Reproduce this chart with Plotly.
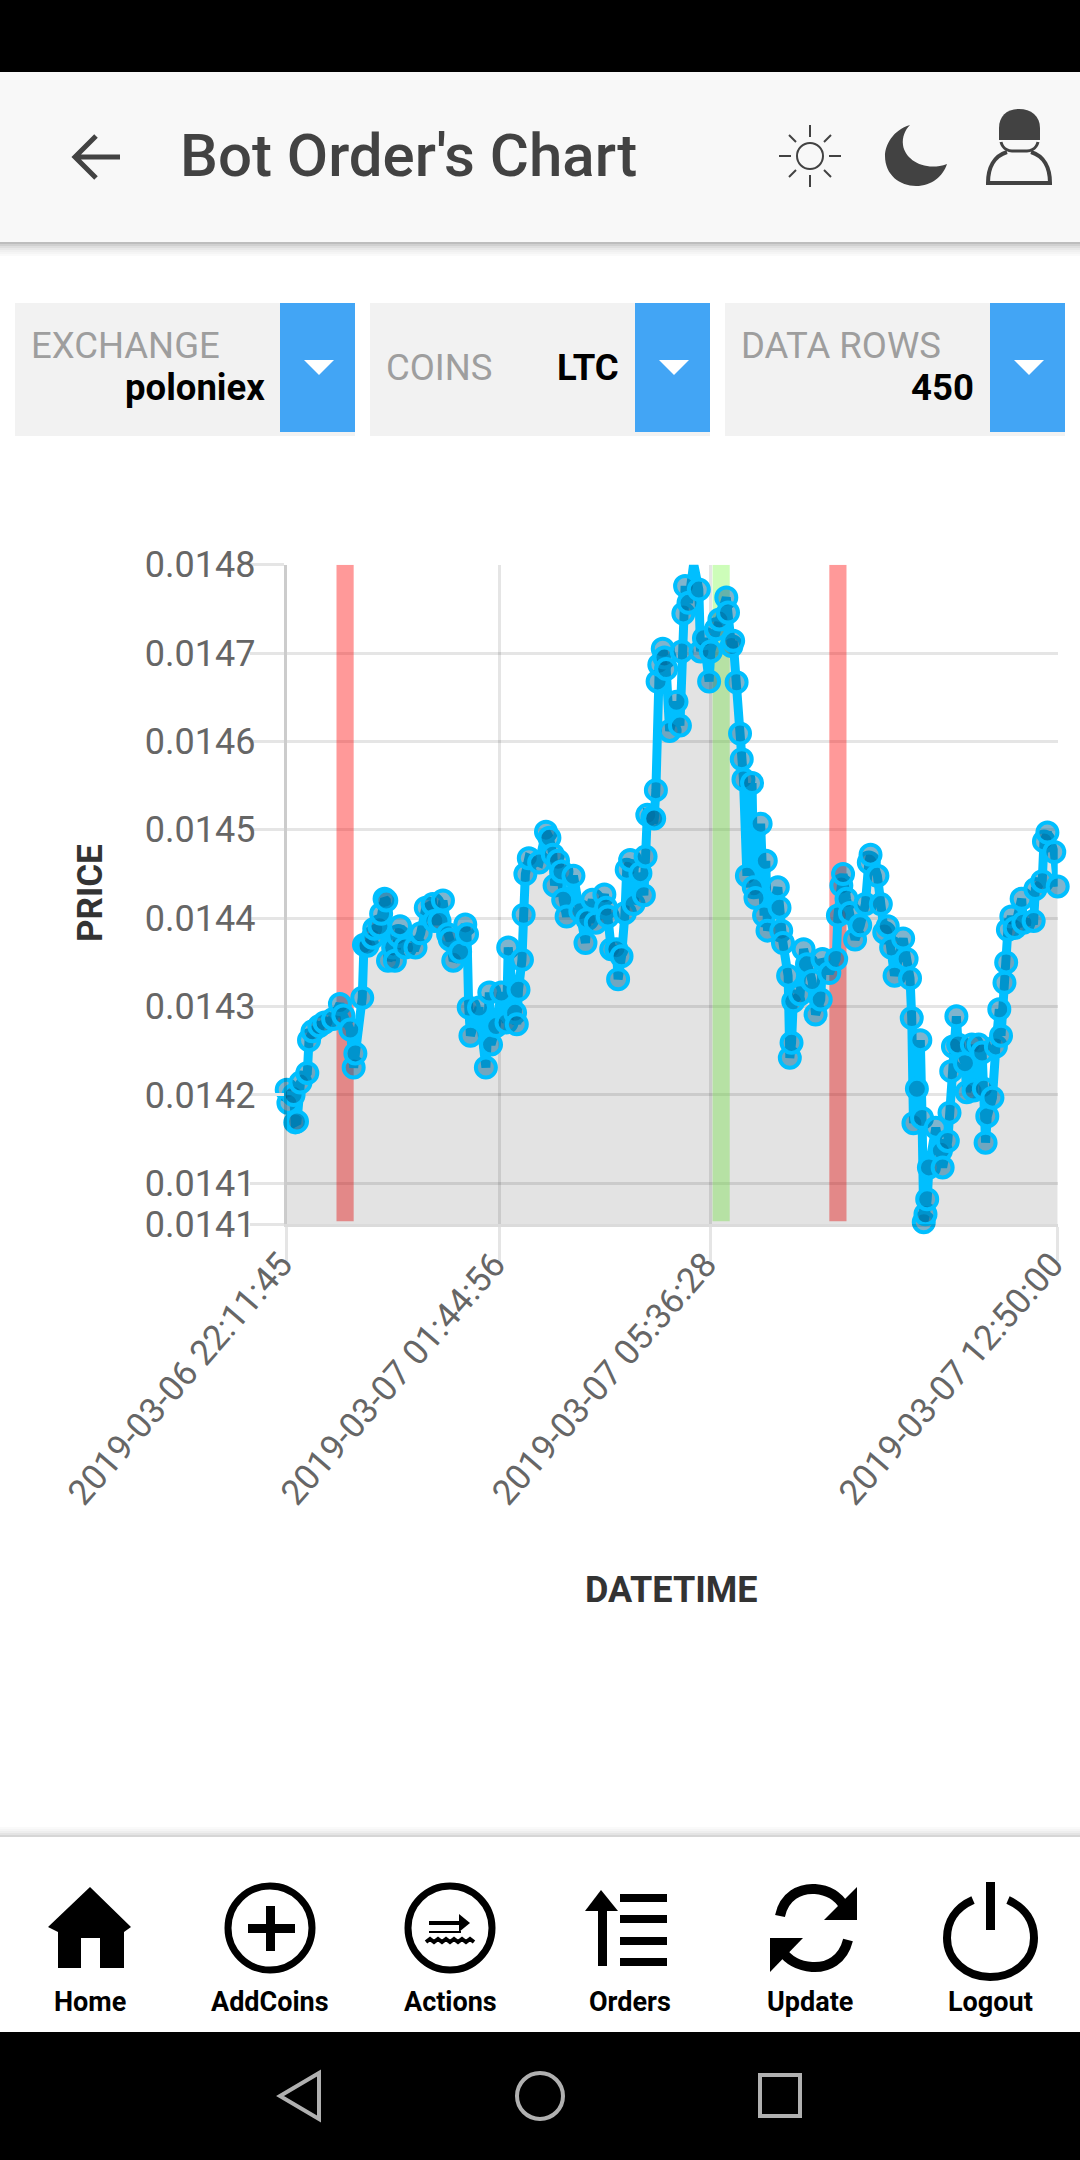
import re
import plotly.graph_objects as go

# values
row = [0, 1, 4, 5, 6, 8, 12, 13, 15, 19,
       22, 27, 31, 33, 37, 39, 40, 44, 45, 47,
       50, 51, 54, 55, 57, 58, 59, 62, 63, 65,
       66, 69, 75, 78, 81, 85, 86, 89, 91, 94,
       95, 97, 101, 104, 105, 106, 107, 112, 116, 118,
       119, 122, 125, 128, 129, 133, 134, 135, 137, 138,
       139, 141, 147, 151, 153, 155, 156, 158, 160, 161,
       163, 167, 171, 174, 175, 178, 180, 185, 186, 187,
       189, 192, 193, 195, 197, 198, 200, 202, 206, 208,
       209, 210, 213, 214, 215, 216, 217, 219, 220, 221,
       223, 227, 229, 230, 231, 232, 234, 237, 240, 241,
       243, 246, 247, 250, 252, 256, 257, 259, 260, 262,
       264, 265, 266, 268, 271, 272, 273, 276, 278, 279,
       280, 286, 287, 288, 289, 292, 293, 294, 295, 299,
       301, 303, 306, 308, 311, 312, 316, 320, 321, 323,
       324, 326, 328, 331, 334, 337, 339, 340, 344, 346,
       348, 350, 352, 354, 359, 361, 363, 364, 365, 367,
       369, 370, 371, 372, 373, 374, 378, 381, 382, 385,
       386, 387, 388, 390, 391, 395, 396, 399, 400, 403,
       405, 406, 407, 408, 411, 413, 415, 416, 418, 419,
       420, 422, 424, 428, 429, 435, 436, 440, 441, 443,
       447, 449]
price = [0.014206, 0.014191, 0.014200, 0.014169, 0.014170, 0.014214, 0.014225, 0.014262, 0.014272, 0.014278,
         0.014282, 0.014286, 0.014303, 0.014290, 0.014274, 0.014231, 0.014247, 0.014310, 0.014370, 0.014369,
         0.014378, 0.014388, 0.014391, 0.014405, 0.014422, 0.014420, 0.014352, 0.014367, 0.014352, 0.014380,
         0.014391, 0.014367, 0.014367, 0.014383, 0.014412, 0.014416, 0.014397, 0.014397, 0.014420, 0.014382,
         0.014376, 0.014352, 0.014362, 0.014393, 0.014382, 0.014299, 0.014267, 0.014299, 0.014231, 0.014316,
         0.014257, 0.014278, 0.014316, 0.014282, 0.014367, 0.014293, 0.014280, 0.014319, 0.014353, 0.014404,
         0.014450, 0.014468, 0.014463, 0.014498, 0.014491, 0.014472, 0.014437, 0.014465, 0.014453, 0.014421,
         0.014402, 0.014448, 0.014408, 0.014372, 0.014399, 0.014421, 0.014395, 0.014427, 0.014412, 0.014402,
         0.014365, 0.014365, 0.014331, 0.014357, 0.014406, 0.014455, 0.014466, 0.014416, 0.014451, 0.014426,
         0.014470, 0.014517, 0.014514, 0.014513, 0.014545, 0.014668, 0.014687, 0.014705, 0.014695, 0.014682,
         0.014612, 0.014645, 0.014618, 0.014702, 0.014745, 0.014776, 0.014757, 0.014801, 0.014772, 0.014702,
         0.014717, 0.014668, 0.014702, 0.014727, 0.014738, 0.014763, 0.014746, 0.014708, 0.014714, 0.014667,
         0.014609, 0.014580, 0.014557, 0.014448, 0.014553, 0.014435, 0.014423, 0.014507, 0.014403, 0.014465,
         0.014386, 0.014435, 0.014412, 0.014386, 0.014372, 0.014335, 0.014242, 0.014259, 0.014306, 0.014314,
         0.014365, 0.014348, 0.014329, 0.014291, 0.014308, 0.014354, 0.014338, 0.014354, 0.014403, 0.014437,
         0.014450, 0.014422, 0.014406, 0.014376, 0.014392, 0.014416, 0.014463, 0.014472, 0.014448, 0.014416,
         0.014384, 0.014391, 0.014367, 0.014335, 0.014377, 0.014354, 0.014332, 0.014287, 0.014168, 0.014207,
         0.014262, 0.014174, 0.014056, 0.014065, 0.014082, 0.014118, 0.014163, 0.014137, 0.014118, 0.014148,
         0.014180, 0.014227, 0.014255, 0.014289, 0.014257, 0.014236, 0.014203, 0.014257, 0.014205, 0.014257,
         0.014248, 0.014207, 0.014146, 0.014176, 0.014197, 0.014255, 0.014297, 0.014267, 0.014327, 0.014350,
         0.014387, 0.014402, 0.014389, 0.014422, 0.014395, 0.014397, 0.014433, 0.014442, 0.014487, 0.014497,
         0.014475, 0.014436]

x_ticks = [0, 124, 247, 449]
x_labels = ["2019-03-06 22:11:45", "2019-03-07 01:44:56", "2019-03-07 05:36:28", "2019-03-07 12:50:00"]
y_ticks = [0.0148, 0.0147, 0.0146, 0.0145, 0.0144, 0.0143, 0.0142, 0.0141, 0.014054]
y_labels = ["0.0148", "0.0147", "0.0146", "0.0145", "0.0144", "0.0143", "0.0142", "0.0141", "0.0141"]

# order bands: start row, end row, colour
band_start = [29, 248, 316]
band_end = [39, 258, 326]
band_colors = ["rgba(255,0,0,0.4)", "rgba(130,250,80,0.4)", "rgba(255,0,0,0.4)"]
band_bottom = 0.014057
band_top = 0.0148

W, H = 1080, 2160


def px(x):
    return x / W


def py(y):
    return 1 - y / H


def to_paper(d):
    # screen pixels -> paper coords for a path string
    out = []
    is_x = True
    for tok in re.findall(r"[MLCQZ]|-?[\d.]+", d):
        if tok in "MLCQZ":
            out.append(tok)
        else:
            out.append(str(px(float(tok))) if is_x else str(py(float(tok))))
            is_x = not is_x
    return " ".join(out)


shapes = []
annotations = []


def rect(x0, y0, x1, y1, color):
    shapes.append(dict(type="rect", xref="paper", yref="paper", x0=px(x0), x1=px(x1), y0=py(y0), y1=py(y1),
                       fillcolor=color, line=dict(width=0), layer="above"))


def circle(cx, cy, rx, ry, color, width, fill="rgba(0,0,0,0)"):
    shapes.append(dict(type="circle", xref="paper", yref="paper", x0=px(cx - rx), x1=px(cx + rx),
                       y0=py(cy - ry), y1=py(cy + ry), fillcolor=fill,
                       line=dict(color=color, width=width), layer="above"))


def path(d, fill=None, color=None, width=0):
    shapes.append(dict(type="path", xref="paper", yref="paper", path=to_paper(d),
                       fillcolor=fill if fill else "rgba(0,0,0,0)",
                       line=dict(color=color if color else "rgba(0,0,0,0)", width=width), layer="above"))


def text(s, x, y, size, color, anchor="left", weight=400, angle=0):
    annotations.append(dict(text=s, xref="paper", yref="paper", x=px(x), y=py(y), showarrow=False,
                            xanchor=anchor, yanchor="middle", textangle=angle,
                            font=dict(family="Roboto", size=size, color=color, weight=weight)))


# status bar, header
rect(0, 0, W, 72, "#000000")
rect(0, 72, W, 242, "#F8F8F8")
for i, c in enumerate(["#BDBDBD", "#D0D0D0", "#DEDEDE", "#E8E8E8", "#F0F0F0", "#F5F5F5", "#FAFAFA"]):
    rect(0, 242 + i * 2, W, 244 + i * 2, c)
path("M 96 136 L 75 157 L 96 178 M 75 157 L 120 157", color="#424242", width=5)
text("Bot Order's Chart", 178, 156, 60, "#424242", weight=500)
circle(810, 156, 13, 13, "#424242", 2)
for d in ["M 810 125 L 810 137", "M 810 175 L 810 187", "M 779 156 L 791 156", "M 829 156 L 841 156",
          "M 789 135 L 796 142", "M 831 135 L 824 142", "M 789 177 L 796 170", "M 831 177 L 824 170"]:
    path(d, color="#424242", width=2)
path("M 910 125 C 893 130 885 145 885 156 C 885 175 900 186 916 186 C 932 186 943 176 947 164 "
     "C 925 172 905 160 903 145 C 902 137 905 130 910 125 Z", fill="#424242")
path("M 1019 109 C 1007 109 999 116 999 128 L 999 140 L 1040 140 L 1040 128 C 1040 116 1031 109 1019 109 Z",
     fill="#424242")
path("M 1001 142 C 1003 150 1010 151 1012 151 L 1027 151 C 1029 151 1036 150 1038 142", color="#424242", width=3)
path("M 1007 152 C 994 156 988 168 988 183 L 1050 183 C 1050 168 1044 156 1031 152", color="#424242", width=4)

# dropdown chips
chip_left = [15, 370, 725]
for x0 in chip_left:
    rect(x0, 303, x0 + 340, 436, "#F2F2F2")
    rect(x0 + 265, 303, x0 + 340, 432, "#42A5F5")
    path(f"M {x0 + 289} 360 L {x0 + 319} 360 L {x0 + 304} 375 Z", fill="#FFFFFF")
text("EXCHANGE", 29, 345, 36.5, "#9E9E9E")
text("poloniex", 267, 388, 36.5, "#000000", anchor="right", weight=700)
text("COINS", 384, 367, 36.5, "#9E9E9E")
text("LTC", 621, 367, 36.5, "#000000", anchor="right", weight=700)
text("DATA ROWS", 739, 345, 36.5, "#9E9E9E")
text("450", 976, 388, 36.5, "#000000", anchor="right", weight=700)

# axis titles
text("DATETIME", 671, 1590, 36, "#333333", anchor="center", weight=700)
text("PRICE", 91, 893, 35, "#333333", anchor="center", weight=700, angle=-90)

# bottom nav
for i, c in enumerate(["#FAFAFA", "#F5F5F5", "#EEEEEE", "#E4E4E4", "#D6D6D6"]):
    rect(0, 1827 + i * 2, W, 1829 + i * 2, c)
path("M 90 1887 L 131 1927 L 124 1932 L 124 1968 L 100 1968 L 100 1938 L 81 1938 L 81 1968 L 58 1968 "
     "L 58 1932 L 48 1927 Z", fill="#000000")
circle(270, 1928, 42, 42, "#000000", 7)
rect(266, 1906, 275, 1951, "#000000")
rect(248, 1924, 295, 1933, "#000000")
circle(450, 1928, 42, 42, "#000000", 7)
rect(429, 1921, 461, 1925, "#000000")
rect(429, 1931, 461, 1933, "#000000")
path("M 459 1914 L 470 1923 L 459 1932 Z", fill="#000000")
path("M 426 1942 L 430 1939 L 434 1942 L 438 1939 L 442 1942 L 446 1939 L 450 1942 L 454 1939 L 458 1942 "
     "L 462 1939 L 466 1942 L 470 1939 L 474 1942", color="#000000", width=4)
rect(598, 1905, 607, 1966, "#000000")
path("M 601 1890 L 618 1911 L 585 1911 Z", fill="#000000")
for y0 in [1894, 1915, 1937, 1958]:
    rect(620, y0, 667, y0 + 8, "#000000")
path("M 780 1916 C 784 1896 800 1888 815 1889 C 828 1890 838 1896 844 1906", color="#000000", width=10)
path("M 857 1887 L 857 1920 L 824 1920 Z", fill="#000000")
path("M 848 1940 C 843 1960 828 1968 812 1967 C 798 1966 788 1960 781 1950", color="#000000", width=10)
path("M 770 1938 L 803 1938 L 770 1972 Z", fill="#000000")
path("M 973 1900 C 955 1908 947 1922 947 1938 C 947 1960 966 1977 990 1977 C 1015 1977 1034 1960 1034 1938 "
     "C 1034 1922 1026 1908 1008 1900", color="#000000", width=8)
rect(986, 1882, 995, 1930, "#000000")
for label, x in zip(["Home", "AddCoins", "Actions", "Orders", "Update", "Logout"], [90, 270, 450, 630, 810, 990]):
    text(label, x, 2002, 27, "#000000", anchor="center", weight=700)

# android bar
rect(0, 2032, W, H, "#000000")
path("M 319 2073 L 280 2096 L 319 2119 Z", color="#B0B0B0", width=4)
circle(540, 2096, 23, 23, "#B0B0B0", 4)
rect(758, 2073, 802, 2118, "#B0B0B0")
rect(762, 2077, 798, 2114, "#000000")

fig = go.Figure()

for s, e, c in zip(band_start, band_end, band_colors):
    fig.add_trace(go.Bar(x=[(s + e) / 2], y=[band_top - band_bottom], base=[band_bottom], width=[e - s],
                         marker=dict(color=c, line=dict(width=0)), showlegend=False))

fig.add_trace(go.Scatter(x=row, y=price, mode="lines+markers", fill="tozeroy", fillcolor="rgba(0,0,0,0.11)",
                         line=dict(color="#00BFFF", width=9),
                         marker=dict(size=20, color="rgba(0,105,155,0.5)", line=dict(color="#00BFFF", width=4)),
                         cliponaxis=False, showlegend=False))

fig.update_layout(
    width=W, height=H, margin=dict(l=0, r=0, t=0, b=0),
    paper_bgcolor="#FFFFFF", plot_bgcolor="#FFFFFF",
    shapes=shapes, annotations=annotations, barmode="overlay",
    font=dict(family="Roboto"),
    xaxis=dict(domain=[286.7 / W, 1057.7 / W], range=[0, 449], automargin=False, tickmode="array", tickvals=x_ticks,
               ticktext=[s + "\u00a0" for s in x_labels], tickangle=-49, tickfont=dict(size=35, color="#666666"),
               ticklabelstandoff=-38,
               showgrid=True, gridcolor="rgba(0,0,0,0.1)", gridwidth=3, zeroline=False,
               ticks="outside", ticklen=34, tickwidth=3, tickcolor="#E5E5E5",
               showline=True, linecolor="rgba(0,0,0,0.14)", linewidth=3),
    yaxis=dict(domain=[1 - 1224 / H, 1 - 564.8 / H], range=[0.014054, 0.0148], automargin=False, tickmode="array",
               tickvals=y_ticks, ticktext=y_labels, tickfont=dict(size=36, color="#666666"), ticklabelstandoff=-13,
               showgrid=True, gridcolor="rgba(0,0,0,0.1)", gridwidth=3, zeroline=False,
               ticks="outside", ticklen=34, tickwidth=3, tickcolor="#E5E5E5",
               showline=True, linecolor="rgba(0,0,0,0.2)", linewidth=3),
)

fig.write_html("out.html", config=dict(displayModeBar=False),
               post_script="document.body.style.margin='0';document.body.style.overflow='hidden';")
